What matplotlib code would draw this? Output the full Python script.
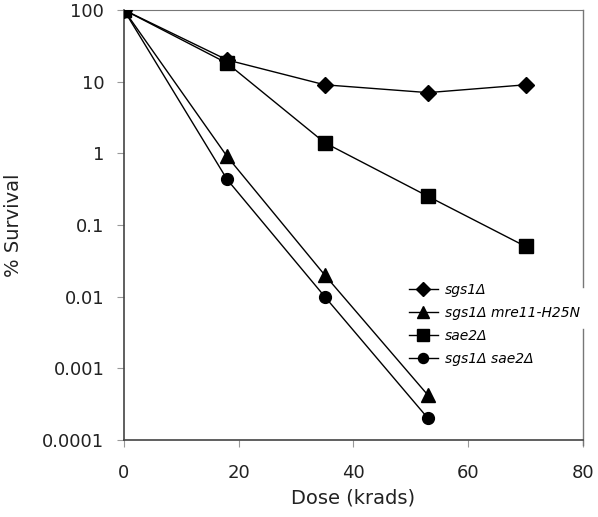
import matplotlib
matplotlib.use("Agg")
import matplotlib.pyplot as plt
from matplotlib.ticker import FixedLocator, FuncFormatter, NullLocator

# dose (krads) and % survival for each strain
dose_full = [0, 18, 35, 53, 70]
dose_short = [0, 18, 35, 53]

sgs1 = [100, 20, 9, 7, 9]
sgs1_mre11 = [100, 0.9, 0.02, 0.00042]
sae2 = [100, 18, 1.4, 0.25, 0.05]
sgs1_sae2 = [100, 0.43, 0.01, 0.0002]

yticks = [0.0001, 0.001, 0.01, 0.1, 1, 10, 100]
xticks = [0, 20, 40, 60, 80]

plt.rcParams['font.family'] = ['DejaVu Sans']

fig = plt.figure(figsize=(5.98, 5.17), dpi=100)
ax = fig.add_axes([0.207, 0.149, 0.768, 0.832])

ax.plot(dose_full, sgs1, color='black', lw=1, marker='D', ms=8,
        label='sgs1Δ', zorder=3)
ax.plot(dose_short, sgs1_mre11, color='black', lw=1, marker='^', ms=9.5,
        label='sgs1Δ mre11-H25N', zorder=3)
ax.plot(dose_full, sae2, color='black', lw=1, marker='s', ms=10,
        label='sae2Δ', zorder=4)
ax.plot(dose_short, sgs1_sae2, color='black', lw=1, marker='o', ms=8.5,
        label='sgs1Δ sae2Δ', zorder=3)

ax.set_yscale('log')
ax.set_ylim(0.0001, 100)
ax.set_xlim(0, 80)
ax.yaxis.set_major_locator(FixedLocator(yticks))
ax.yaxis.set_major_formatter(FuncFormatter(lambda v, p: '%g' % v))
ax.yaxis.set_minor_locator(NullLocator())
ax.set_xticks(xticks)

ax.tick_params(axis='both', direction='out', length=5, color='#999999',
               labelsize=13, labelcolor='#222222')
ax.tick_params(axis='x', pad=12)
ax.tick_params(axis='y', pad=9)

ax.set_xlabel('Dose (krads)', fontsize=14, color='#222222', labelpad=5)
ax.set_ylabel('% Survival', fontsize=14, color='#222222', labelpad=14)

for side in ['left', 'bottom']:
    ax.spines[side].set_color('#444444')
    ax.spines[side].set_linewidth(1.2)
ax.spines['top'].set_color('#777777')
ax.spines['right'].set_visible(False)

# right border, broken where the legend overlaps it
ax.plot([1, 1], [-0.012, 0.258], transform=ax.transAxes, color='#777777',
        lw=1, clip_on=False)
ax.plot([1, 1], [0.356, 1], transform=ax.transAxes, color='#777777',
        lw=1, clip_on=False)

leg = ax.legend(loc='lower right', bbox_to_anchor=(1.005, 0.16), frameon=False,
                prop={'style': 'italic', 'size': 10}, handlelength=2.1,
                handletextpad=0.5, labelspacing=0.65, borderaxespad=0,
                markerscale=0.85)

fig.savefig('out.png', dpi=100)
